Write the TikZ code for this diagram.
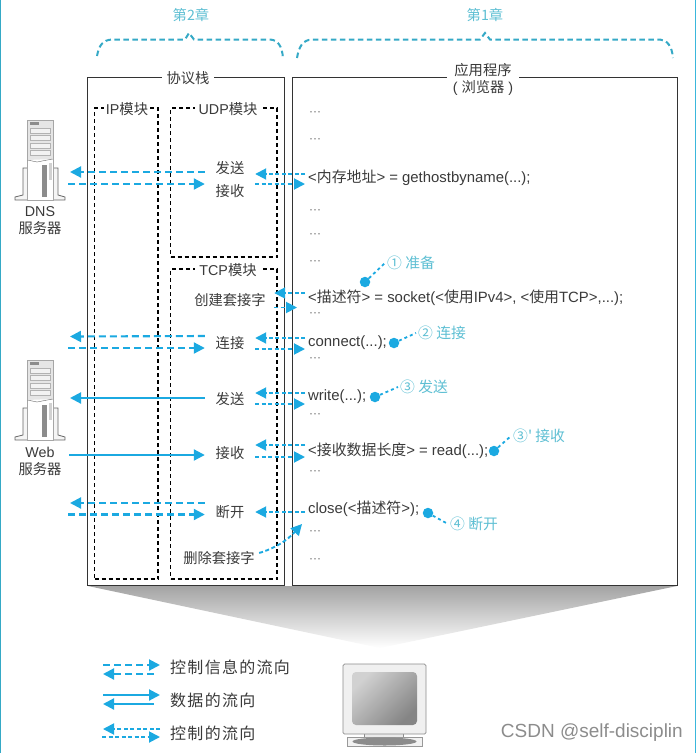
\documentclass[tikz,border=0pt]{standalone}
\usepackage{fontspec}
\usepackage{xcolor}
\usepackage{tikz}
\usetikzlibrary{arrows.meta, calc}
\setmainfont{Liberation Sans}
\newfontfamily\cjk{Noto Sans CJK SC}
\newfontfamily\cjkwide[LetterSpace=8]{Noto Sans CJK SC}
\newcommand{\zh}[1]{{\cjk #1}}
\definecolor{flowblue}{HTML}{1BA9E1}
\definecolor{chapteal}{HTML}{35A9C6}
\definecolor{notecyan}{HTML}{5EBFD3}
\definecolor{inktext}{HTML}{3A3A3A}
\definecolor{edgecyan}{HTML}{3AB7DC}
\tikzset{
    every node/.style={text=inktext, font=\fontsize{14.3}{17}\selectfont},
    boxframe/.style={draw=black!80, line width=1.3pt, inner sep=0pt},
    modbox/.style={draw=black, line width=1.3pt, dash pattern=on 4pt off 3pt, inner sep=0pt},
    boxtag/.style={fill=white, inner sep=2pt},
    verb/.style={minimum width=50pt, inner sep=0pt, align=center},
    codeline/.style={anchor=west, inner xsep=3pt, inner ysep=1pt, font=\fontsize{14.9}{17}\selectfont},
    codegap/.style={font=\fontsize{12}{12}\selectfont, text=black!60, inner sep=0pt},
    stepnote/.style={text=notecyan, anchor=west, inner xsep=2pt, font=\fontsize{14.8}{17}\selectfont},
    stepdot/.style={circle, fill=flowblue, minimum size=10.5pt, inner sep=0pt},
    leader/.style={draw=flowblue, line width=1.8pt, dash pattern=on 3pt off 3pt},
    flowtip/.style={-{Triangle[length=11pt,width=11pt]}, draw=flowblue, line width=2.1pt},
    infoflow/.style={flowtip, dash pattern=on 7pt off 4pt},
    dataflow/.style={flowtip},
    callflow/.style={flowtip, line width=1.9pt, dash pattern=on 4pt off 2.5pt},
    bracket/.style={draw=chapteal, line width=2pt, dash pattern=on 5.5pt off 3.5pt},
    chaptag/.style={text=notecyan},
    legendtext/.style={anchor=west, font=\fontsize{16}{18}\selectfont\cjkwide, inner sep=0pt},
    stamp/.style={text=black!45, font=\fontsize{19}{21}\selectfont, anchor=east, inner sep=0pt}
}
% one tower server, moved down by #1
\newcommand{\drawserver}[1]{
    \begin{scope}[shift={(0,#1)}]
        \draw[draw=black!60, fill=black!4, line width=0.8pt] (23,168) -- (23,195) -- (15,197) -- (15,200)
            -- (65,200) -- (65,197) -- (58,195) -- (58,168) -- cycle;
        \draw[draw=black!35, fill=white, line width=0.7pt] (27,120) rectangle (53,200);
        \draw[draw=none, fill=black!10] (27.5,120.5) rectangle (52.5,160);
        \draw[draw=black!60, fill=white] (27.5,160) -- (37,162) -- (52.5,159);
        \draw[fill=black!45, draw=none] (30,122) rectangle (39,125);
        \foreach \y in {128,135,143,150}
            \draw[draw=black!30, fill=black!5, line width=0.6pt] (30,\y) rectangle (50,\y+5.5);
        \draw[fill=black!45, draw=none] (42,165) rectangle (46.5,197);
        \draw[fill=black!18, draw=none] (49,163) rectangle (52,180);
    \end{scope}
}

\begin{document}
\begin{tikzpicture}[x=1pt, y=-1pt]
    \useasboundingbox (0,0) rectangle (697,753);
    \draw[chapteal, line width=1.2pt] (0.5,0) -- (0.5,753);
    \draw[edgecyan, line width=1.5pt] (695.5,0) -- (695.5,753);

    % Gray funnel down to the computer
    \shade[top color=black!36, bottom color=white] (88,586) -- (677,586) -- (380,648) -- cycle;

    % Chapters
    \node[chaptag] (chapB) at (191,15) {\zh{第2章}};
    \node[chaptag] (chapA) at (485,15) {\zh{第1章}};
    \draw[bracket] (97,56) .. controls (99,45) and (103,40) .. (112,39.5) -- (185,39.5) -- (189,33) -- (194,39.5)
        -- (270,39.5) .. controls (278,40) and (282,46) .. (283,58);
    \draw[bracket] (297,58) .. controls (299,46) and (303,40) .. (312,39.5) -- (480,39.5) -- (485,33) -- (490,39.5)
        -- (660,39.5) .. controls (667,40) and (672,46) .. (673,58);

    % Main boxes
    \node[boxframe, minimum width=197pt, minimum height=508pt] (stack) at (186.3,331.8) {};
    \node[boxframe, minimum width=385pt, minimum height=508pt] (app) at (484.9,331.8) {};
    \node[boxtag, inner xsep=5pt] (stackTag) at (188,78) {\zh{协议栈}};
    \node[boxtag, align=center, inner xsep=6pt] (appTag) at (483,79) {\zh{应用程序}\\( \zh{浏览器} )};

    % Modules
    \node[modbox, minimum width=63.5pt, minimum height=471pt] (ipBox) at (126.3,343.5) {};
    \node[modbox, minimum width=106.5pt, minimum height=149pt] (udpBox) at (223.8,182.5) {};
    \node[modbox, minimum width=106.5pt, minimum height=310pt] (tcpBox) at (223.8,424) {};
    \node[boxtag] (ipTag) at (127,109) {IP\zh{模块}};
    \node[boxtag, inner xsep=4pt] (udpTag) at (228,109) {UDP\zh{模块}};
    \node[boxtag, inner xsep=4pt] (tcpTag) at (228,270) {TCP\zh{模块}};

    % Servers
    \drawserver{0}
    \drawserver{240}
    \node[inner sep=0pt, align=center] (dnsName) at (40,221) {DNS\\\zh{服务器}};
    \node[inner sep=0pt, align=center] (webName) at (40,461) {Web\\\zh{服务器}};

    % Stack verbs
    \node[verb] (udpSend) at (230,168) {\zh{发送}};
    \node[verb] (udpRecv) at (230,190.7) {\zh{接收}};
    \node[verb, minimum width=88pt] (tcpMake) at (230,300) {\zh{创建套接字}};
    \node[verb] (tcpConn) at (230,343) {\zh{连接}};
    \node[verb] (tcpSend) at (230,399) {\zh{发送}};
    \node[verb] (tcpRecv) at (230,453) {\zh{接收}};
    \node[verb] (tcpClose) at (230,512) {\zh{断开}};
    \node[verb, minimum width=80pt] (tcpDrop) at (219,558) {\zh{删除套接字}};

    % Application code
    \node[codeline] (callHost) at (305,178) {<\zh{内存地址}> = gethostbyname(...);};
    \node[codeline] (callSock) at (305,298) {<\zh{描述符}> = socket(<\zh{使用}IPv4>, <\zh{使用}TCP>,...);};
    \node[codeline] (callConn) at (305,342.5) {connect(...);};
    \node[codeline] (callWrite) at (305,397) {write(...);};
    \node[codeline] (callRead) at (305,450.5) {<\zh{接收数据长度}> = read(...);};
    \node[codeline] (callClose) at (305,509) {close(<\zh{描述符}>);};
    \foreach \y in {114,141,212,236,263,315,360,416,473,533,561}
        \node[codegap] (gap\y) at (315,\y) {···};

    % Free ends
    \foreach \nm/\px/\py in {dnsOut/70/172, dnsIn/68/184, connOut/70/336.5, connIn/68/348, sendOut/70/398,
        recvIn/69/455, closeOut/70/503, closeIn/68/514.5, sockEnd/297/307.5, dropEnd/302/524}
        \coordinate (\nm) at (\px,\py);

    % Flows to the servers
    \draw[infoflow] ([yshift=-4pt]udpSend.west) -- (dnsOut);
    \draw[infoflow] (dnsIn) -- ([yshift=6.7pt]udpRecv.west);
    \draw[infoflow] ([yshift=7pt]tcpConn.west) -- (connOut);
    \draw[infoflow] (connIn) -- ([yshift=-5pt]tcpConn.west);
    \draw[dataflow] ([yshift=1pt]tcpSend.west) -- (sendOut);
    \draw[dataflow] (recvIn) -- ([yshift=-2pt]tcpRecv.west);
    \draw[infoflow] ([yshift=9pt]tcpClose.west) -- (closeOut);
    \draw[infoflow] (closeIn) -- ([yshift=-2.5pt]tcpClose.west);

    % Calls between application and stack
    \draw[callflow] ([yshift=4pt]callHost.west) -- ([yshift=-6pt]udpSend.east);
    \draw[callflow] ([yshift=6.7pt]udpRecv.east) -- ([yshift=-6pt]callHost.west);
    \draw[callflow] ([yshift=5pt]callSock.west) -- ([yshift=7pt]tcpMake.east);
    \draw[callflow] ([yshift=-7.5pt]tcpMake.east) -- (sockEnd);
    \draw[callflow] ([yshift=4.5pt]callConn.west) -- ([yshift=5pt]tcpConn.east);
    \draw[callflow] ([yshift=-6pt]tcpConn.east) -- ([yshift=-6.5pt]callConn.west);
    \draw[callflow] ([yshift=4pt]callWrite.west) -- ([yshift=6pt]tcpSend.east);
    \draw[callflow] ([yshift=-5pt]tcpSend.east) -- ([yshift=-7pt]callWrite.west);
    \draw[callflow] ([yshift=5.5pt]callRead.west) -- ([yshift=8pt]tcpRecv.east);
    \draw[callflow] ([yshift=-4pt]tcpRecv.east) -- ([yshift=-6.5pt]callRead.west);
    \draw[callflow] ([yshift=-3pt]callClose.west) -- (tcpClose.east);
    \draw[callflow] ([yshift=5pt]tcpDrop.east) .. controls (282,546) and (292,535) .. (dropEnd);

    % Step notes
    \node[stepdot] (dotA) at (365,282) {};
    \node[stepdot] (dotB) at (394,343) {};
    \node[stepdot] (dotC) at (375,397) {};
    \node[stepdot] (dotD) at (494,451) {};
    \node[stepdot] (dotE) at (428,513) {};
    \node[stepnote] (noteA) at (385,263) {\zh{① 准备}};
    \node[stepnote] (noteB) at (416,333) {\zh{② 连接}};
    \node[stepnote] (noteC) at (398,387) {\zh{③ 发送}};
    \node[stepnote] (noteD) at (511,436) {\zh{③' 接收}};
    \node[stepnote] (noteE) at (448,524) {\zh{④ 断开}};
    \draw[leader] (dotA) -- (noteA.west);
    \draw[leader] (dotB) -- (noteB.west);
    \draw[leader] (dotC) -- (noteC.west);
    \draw[leader] (dotD) -- (noteD.west);
    \draw[leader] (dotE) -- (noteE.west);

    % Legend
    \node[legendtext] (legInfo) at (170,667) {控制信息的流向};
    \node[legendtext] (legData) at (170,700) {数据的流向};
    \node[legendtext] (legCall) at (170,733) {控制的流向};
    \foreach \nm/\px/\py in {infoA/103/665, infoB/160/665, infoC/154/674, infoD/103/674,
        dataA/103/695, dataB/160/695, dataC/154/704, dataD/103/704,
        callA/160/729, callB/103/729, callC/102/737, callD/160/737}
        \coordinate (\nm) at (\px,\py);
    \draw[infoflow] (infoA) -- (infoB);
    \draw[infoflow] (infoC) -- (infoD);
    \draw[dataflow] (dataA) -- (dataB);
    \draw[dataflow] (dataC) -- (dataD);
    \draw[callflow] (callA) -- (callB);
    \draw[callflow] (callC) -- (callD);

    % Computer
    \draw[draw=black!45, fill=black!8, line width=0.7pt] (364,733) rectangle (403,738);
    \draw[draw=black!40, fill=black!5, line width=0.7pt] (347,737) rectangle (422,746);
    \fill[black!45] (384.5,741.5) ellipse (32 and 4);
    \draw[draw=black!45, fill=black!6, line width=0.7pt, rounded corners=1.5pt] (343,664) rectangle (426,734);
    \shade[rounded corners=4pt, top color=black!18, bottom color=black!48, shading angle=45]
        (352,672) rectangle (417,725);

    % Watermark
    \node[stamp] (wmark) at (683,733) {CSDN @self-disciplin};
\end{tikzpicture}
\end{document}
